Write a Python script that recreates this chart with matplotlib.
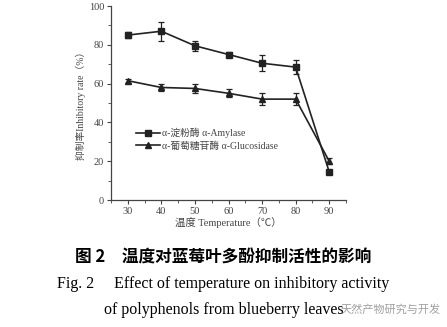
import numpy as np
import matplotlib.pyplot as plt

plt.rcParams['font.family'] = ['Liberation Serif', 'Noto Sans CJK SC']

temps = [30, 40, 50, 60, 70, 80, 90]
amylase = [85, 87, 79.5, 75, 70.5, 68.5, 14.5]
amylase_err = [1.5, 5, 2.5, 1.5, 4, 3.5, 1]
glucosidase = [61.5, 58, 57.5, 55, 52, 52, 20]
glucosidase_err = [1, 1.8, 2.5, 2, 3, 3, 1.5]

grey = '#444444'

fig = plt.figure(figsize=(4.47, 3.27), dpi=100)
ax = fig.add_axes([111/447, 1 - 200/327, 235/447, 194/327])

e1 = ax.errorbar(temps, amylase, yerr=amylase_err, color='#222222', marker='s', ms=4,
                 lw=1.2, capsize=2.5, elinewidth=0.9, capthick=0.9)
e2 = ax.errorbar(temps, glucosidase, yerr=glucosidase_err, color='#222222', marker='^', ms=4,
                 lw=1.2, capsize=2.5, elinewidth=0.9, capthick=0.9)

ax.set_xlim(25, 95)
ax.set_ylim(0, 100)
ax.set_xticks(temps)
ax.set_xticks(np.arange(25, 96, 5), minor=True)
ax.set_yticks([0, 20, 40, 60, 80, 100])
ax.set_yticks(np.arange(0, 101, 10), minor=True)
ax.tick_params(direction='out', length=3, width=0.8, labelsize=7.5, colors=grey, pad=2)
ax.tick_params(which='minor', direction='out', length=2, width=0.6, colors=grey)
for s in ['top', 'right']:
    ax.spines[s].set_visible(False)
for s in ['left', 'bottom']:
    ax.spines[s].set_color(grey)
    ax.spines[s].set_linewidth(0.9)

ax.set_xlabel('温度 Temperature（℃）', fontsize=7.5, color=grey, labelpad=1)
ax.set_ylabel('抑制率Inhibitory rate（%）', fontsize=7, color=grey, labelpad=2)

leg = ax.legend([e1[0], e2[0]], ['α-淀粉酶 α-Amylase', 'α-葡萄糖苷酶 α-Glucosidase'],
                loc='lower left', bbox_to_anchor=(0.07, 0.21), frameon=False,
                fontsize=7, handlelength=2.4, labelspacing=0.3,
                handletextpad=0.3)
for t in leg.get_texts():
    t.set_color(grey)

fig.text(0.5, 1 - 258/327, '图 2　温度对蓝莓叶多酚抑制活性的影响', ha='center', va='center',
         fontsize=12, fontweight='bold', family=['Noto Sans CJK SC', 'DejaVu Sans'])
fig.text(0.5, 1 - 284/327, 'Fig. 2　 Effect of temperature on inhibitory activity',
         ha='center', va='center', fontsize=11.5)
fig.text(0.5, 1 - 310/327, 'of polyphenols from blueberry leaves',
         ha='center', va='center', fontsize=11.5)
fig.text(0.985, 1 - 310/327, '天然产物研究与开发', ha='right', va='center',
         fontsize=8, color='#888888', alpha=0.8,
         family=['Noto Sans CJK SC', 'DejaVu Sans'])

fig.savefig('out.png', dpi=100)
